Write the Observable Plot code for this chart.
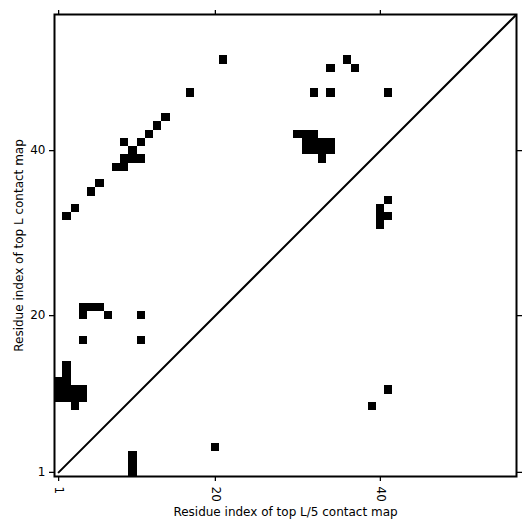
<!DOCTYPE html>
<html>
<head>
<meta charset="utf-8">
<script src="https://cdn.jsdelivr.net/npm/d3@7"></script>
<script src="https://cdn.jsdelivr.net/npm/@observablehq/plot@0.6"></script>
<style>
  html, body { margin: 0; padding: 0; background: #fff; }
  #chart { width: 531px; height: 531px; }
</style>
</head>
<body>
<div id="chart"></div>
<script>
// Sequence length (residues)
const sequenceLength = 56;

// Contacts above the diagonal (top L contact map): [residue i, residue j]
const topLContacts = [
  [21,51],[36,51],[37,50],[34,50],
  [17,47],[32,47],[34,47],[41,47],
  [14,44],[13,43],[12,42],
  [9,41],[11,41],[10,40],
  [9,39],[10,39],[11,39],[8,38],[9,38],
  [6,36],[5,35],[3,33],[2,32],
  [30,42],[31,42],[32,42],
  [31,41],[32,41],[33,41],[34,41],
  [31,40],[32,40],[33,40],[34,40],
  [33,39],
  [4,21],[5,21],[6,21],[4,20],[7,20],[11,20],
  [4,17],[11,17],
  [2,14],[2,13],[1,12],[2,12],
  [1,11],[2,11],[3,11],[4,11],
  [1,10],[2,10],[3,10],[4,10],
  [3,9]
];

// Contacts below the diagonal (top L/5 contact map): [residue i, residue j]
const topL5Contacts = [
  [41,34],[40,33],[41,32],[40,32],[40,31],
  [41,11],[39,9],
  [20,4],
  [10,3],[10,2],[10,1]
];

// Tick labels
const xTicks = [1, 20, 40];
const yTicks = [1, 20, 40];

// Diagonal reference line ends
const diagonalEnds = [1, sequenceLength + 0.5];

const allContacts = topLContacts.concat(topL5Contacts);

const chart = Plot.plot({
  width: 531,
  height: 531,
  marginLeft: 54,
  marginRight: 15,
  marginTop: 14,
  marginBottom: 55,
  style: {fontFamily: "DejaVu Sans", fontSize: "12.4px", color: "black", background: "white"},
  x: {domain: [0.5, sequenceLength + 0.5]},
  y: {domain: [0.5, sequenceLength + 0.5]},
  marks: [
    Plot.rect(allContacts, {
      x1: d => d[0] - 0.5, x2: d => d[0] + 0.5,
      y1: d => d[1] - 0.5, y2: d => d[1] + 0.5,
      fill: "black", shapeRendering: "crispEdges"
    }),
    Plot.line(diagonalEnds, {x: d => d, y: d => d, stroke: "black", strokeWidth: 2, clip: true}),
    Plot.axisX({anchor: "bottom", ticks: xTicks, tickSize: 5, tickPadding: 5, tickRotate: 90,
      strokeWidth: 1.3, fontSize: 12,
      label: "Residue index of top L/5 contact map", labelAnchor: "center", labelArrow: "none", labelOffset: 39}),
    Plot.axisX({anchor: "top", ticks: xTicks, tickSize: 5, tickFormat: () => "", label: null, strokeWidth: 1.3}),
    Plot.axisY({anchor: "left", ticks: yTicks, tickSize: 5, tickPadding: 4,
      strokeWidth: 1.3, fontSize: 12,
      label: "Residue index of top L contact map", labelAnchor: "center", labelArrow: "none", labelOffset: 40}),
    Plot.axisY({anchor: "right", ticks: yTicks, tickSize: 5, tickFormat: () => "", label: null, strokeWidth: 1.3}),
    Plot.frame({stroke: "black", strokeWidth: 2})
  ]
});

document.getElementById("chart").appendChild(chart);
</script>
</body>
</html>
